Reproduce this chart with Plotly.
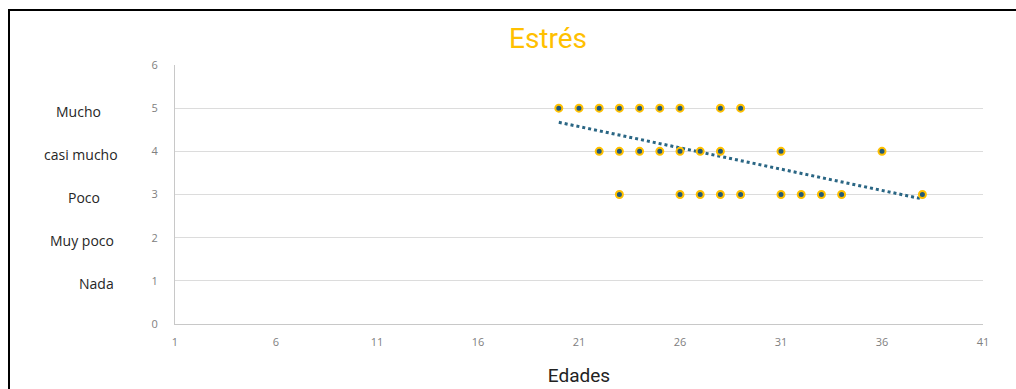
import numpy as np
import plotly.graph_objects as go

# Data
ages_mucho = [20, 21, 22, 23, 24, 25, 26, 28, 29]
ages_casi_mucho = [22, 23, 24, 25, 26, 27, 28, 31, 36]
ages_poco = [23, 26, 27, 28, 29, 31, 32, 33, 34, 38]
level_mucho = 5
level_casi_mucho = 4
level_poco = 3

category_labels = ["Mucho", "casi mucho", "Poco", "Muy poco", "Nada"]
category_values = [5, 4, 3, 2, 1]
x_ticks = [1, 6, 11, 16, 21, 26, 31, 36, 41]
y_ticks = [0, 1, 2, 3, 4, 5, 6]

x = ages_mucho + ages_casi_mucho + ages_poco
y = ([level_mucho] * len(ages_mucho) + [level_casi_mucho] * len(ages_casi_mucho)
     + [level_poco] * len(ages_poco))

slope, intercept = np.polyfit(x, y, 1)
tx = [min(x), max(x)]
ty = [slope * v + intercept for v in tx]

fig = go.Figure()
fig.add_trace(go.Scatter(
    x=tx, y=ty, mode="lines",
    line=dict(color="#2A6684", width=3, dash="dot"),
    showlegend=False, hoverinfo="skip"))
fig.add_trace(go.Scatter(
    x=x, y=y, mode="markers",
    marker=dict(size=7, color="#235A78", line=dict(color="#FFC000", width=2)),
    showlegend=False))

W, H = 1016, 389
L, R, T, B = 175, 33, 65, 65
pw, ph = W - L - R, H - T - B

def px_x(p):
    return (p - L) / pw

def px_y(p):
    return (H - B - p) / ph

label_cx = [78, 81, 84, 82, 96]
annotations = []
for lab, val, cx in zip(category_labels, category_values, label_cx):
    annotations.append(dict(
        text=lab, x=px_x(cx), xref="paper", y=val, yref="y",
        xanchor="center", yanchor="middle", yshift=-3, showarrow=False,
        font=dict(family="Open Sans", size=14, color="#262626")))

# Border: top and left edges only (as in the reference)
shapes = [
    dict(type="rect", xref="paper", yref="paper",
         x0=px_x(8), x1=px_x(10), y0=px_y(H + 5), y1=px_y(9),
         fillcolor="black", line=dict(width=0)),
    dict(type="rect", xref="paper", yref="paper",
         x0=px_x(8), x1=px_x(W + 5), y0=px_y(11), y1=px_y(9),
         fillcolor="black", line=dict(width=0)),
]

fig.update_layout(
    width=W, height=H,
    margin=dict(l=L, r=R, t=T, b=B, autoexpand=False),
    paper_bgcolor="white", plot_bgcolor="white",
    title=dict(text="Estrés", x=548 / W, xref="container", xanchor="center",
               y=1 - 38 / H, yref="container", yanchor="middle",
               font=dict(family="Roboto", size=28, color="#FFC000")),
    xaxis=dict(range=[1, 41], tickvals=x_ticks, showgrid=False,
               showline=True, linecolor="#C8C8C8", linewidth=1,
               zeroline=False, ticks="", ticklabelstandoff=8, automargin=False,
               tickfont=dict(family="Open Sans", size=11, color="#808080"),
               title=dict(text="Edades", standoff=20,
                          font=dict(family="Roboto", size=19, color="#222222"))),
    yaxis=dict(range=[0, 6], tickvals=y_ticks, showgrid=True,
               gridcolor="#DCDCDC", gridwidth=1, automargin=False,
               showline=True, linecolor="#C8C8C8", linewidth=1,
               zeroline=False, ticks="", ticklabelstandoff=14,
               tickfont=dict(family="Open Sans", size=11, color="#808080")),
    annotations=annotations,
    shapes=shapes,
)

fig.write_html(
    "out.html",
    post_script=("document.documentElement.style.overflow='hidden';"
                 "document.body.style.overflow='hidden';"
                 "document.body.style.margin='0';"),
)
